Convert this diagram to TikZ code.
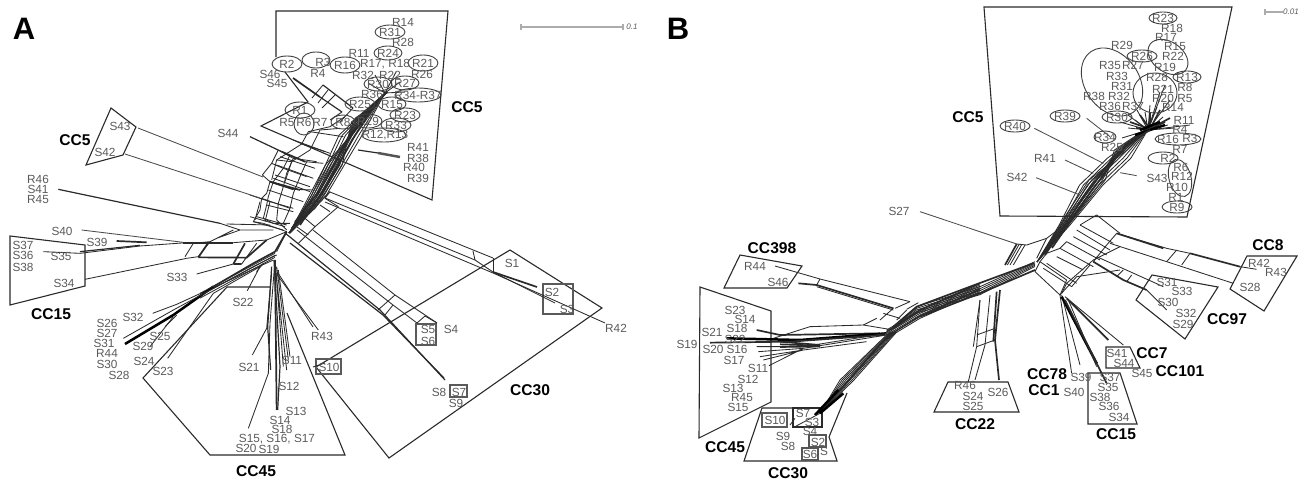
\documentclass[tikz,border=0pt]{standalone}
\usepackage{fontspec}
\setmainfont{Liberation Sans}
\definecolor{ink}{HTML}{2A2A2A}
\definecolor{lab}{HTML}{5A5A5A}
\tikzset{
 txt/.style={text=lab,font=\fontsize{5.9}{6}\selectfont,inner sep=0pt},
 cc/.style={text=black,font=\fontsize{7.8}{8}\selectfont\bfseries,inner sep=0pt},
 big/.style={text=black,font=\fontsize{15.5}{16}\selectfont\bfseries,inner sep=0pt},
 poly/.style={draw=ink,line width=.55pt,line join=miter},
 net/.style={draw=ink,line width=.42pt,line join=round},
 mid/.style={draw=ink,line width=.6pt,line join=round},
 thk/.style={draw=ink,line width=.85pt,line join=round},
 hvy/.style={draw=black,line width=1.25pt,line join=round},
 leaf/.style={draw=ink!85,line width=.42pt},
 ell/.style={draw=ink!90,line width=.45pt},
 bx/.style={draw=lab,line width=.6pt},
 bar/.style={draw=gray!65,line width=.6pt},
 z1/.style={shift={(230,0)},scale=1/3},
 z2/.style={shift={(0,160)},scale=1/3},
 z3/.style={shift={(280,230)},scale=1/3},
 z4/.style={shift={(980,0)},scale=1/3},
 z5/.style={shift={(680,230)},scale=1/3},
 z6/.style={shift={(950,220)},scale=1/3},
 z7/.style={shift={(60,90)},scale=1/3},
 z8/.style={shift={(250,130)},scale=1/3},
 z9/.style={shift={(880,170)},scale=1/3},
}
\begin{document}
\begin{tikzpicture}[x=.5pt,y=-.5pt]
\useasboundingbox (0,0) rectangle (1303,482);
% ---------- panel letters and scale bars
\node[big] (pa) at (24,29) {A};
\node[big] (pb) at (678,29) {B};
\coordinate (sa1) at (521,27); \coordinate (sa2) at (623,27);
\draw[bar] (sa1)--(sa2);
\draw[bar] (521,24)--(521,30) (623,24)--(623,30);
\node[txt,font=\fontsize{4}{4}\selectfont\itshape] (sa) at (632,27) {0.1};
\coordinate (sb1) at (1265,12); \coordinate (sb2) at (1283,12);
\draw[bar] (sb1)--(sb2);
\draw[bar] (1265,9)--(1265,15);
\node[txt,font=\fontsize{4}{4}\selectfont\itshape] (sb) at (1291,12) {0.01};
% ---------- panel A: cluster outlines
\draw[poly] (276,57)--(276,11)--(448,11)--(432,200)--(261,126)--(308,102)--(285,72);
\draw[poly] (111,108)--(136,127)--(123,155)--(86,165)--cycle;
\draw[poly] (10,236)--(85,245)--(85,286)--(10,305)--cycle;
\draw[poly] (270,287)--(227,287)--(143,378)--(210,455)--(345,455)--(287,313);
\draw[poly] (316,367)--(510,250)--(602,308)--(389,458)--cycle;
% boxes
\draw[bx] (316,359) rectangle (341,374);
\draw[bx] (416,324) rectangle (436,345);
\draw[bx] (450,385) rectangle (467,397);
\draw[bx] (543,284) rectangle (573,314);
% ---------- panel A: network, stem
\foreach \d in {-9,-6,-3,0,3,6,9,12}{
 \draw[net] (289,233)--(318+.7*\d,195)--(349+1.1*\d,135)--(385,93);
 \draw[net] (292,228)--(310-.6*\d,208)--(335-.8*\d,165)--(356+.5*\d,122)--(387,92);
}
\draw[thk] (295,222)--(320,190)--(345,145)--(370,108)--(387,92);
\draw[thk] (300,225)--(327,185)--(352,140)--(376,103);
\draw[thk] (293,78)--(320,97);
\draw[mid] (320,97)--(342,112);
\draw[mid] (323,85)--(340,98)--(353,108);
\draw[mid] (358,150)--(378,153);
\draw[hvy,draw=ink!80] (378,153)--(400,157);
\draw[net] (323,85)--(312,98) (328,90)--(318,103) (335,95)--(322,108) (342,112)--(330,120) (353,108)--(340,122);
\draw[net] (368,83)--(385,93)--(372,105) (375,75)--(385,93)--(396,72) (385,93)--(400,82) (385,93)--(405,92);
\begin{scope}[z1]
 \draw[net] (125,540)--(140,480)--(215,432)--(235,395)--(300,380)--(345,350);
 \draw[net] (165,545)--(185,485)--(240,450)--(270,390)--(330,385);
 \draw[net] (140,480)--(185,485) (215,432)--(285,455) (240,395)--(340,410);
 \draw[net] (190,420)--(300,460) (150,470)--(255,505) (135,525)--(240,560);
\end{scope}
\begin{scope}[z7]
 \draw[net] (655,180)--(635,220)--(607,255)--(630,275)--(620,310)--(605,325)--(600,360)--(580,395)--(610,400);
 \draw[net] (690,195)--(670,235)--(640,275)--(625,320)--(620,345)--(610,385)--(640,400);
 \draw[net] (700,205)--(680,250)--(670,290)--(655,340)--(650,390)--(680,420);
 \draw[net] (740,215)--(720,260)--(700,310)--(690,355)--(670,400);
 \draw[net] (655,180)--(700,205)--(770,215);
 \draw[net] (635,220)--(670,235)--(740,260);
 \draw[thk] (630,275)--(720,300);
 \draw[net] (650,225)--(760,265) (640,265)--(750,305) (625,300)--(730,335);
 \draw[net] (605,325)--(690,355) (620,345)--(700,365) (580,395)--(670,420) (590,380)--(680,405);
 \draw[net] (610,400)--(680,425) (640,400)--(690,400);
\end{scope}
\begin{scope}[z8]
 \draw[mid] (0,20)--(95,65);
 \draw[thk] (95,65)--(165,95);
 \draw[net] (165,95)--(220,100);
 \draw[thk] (60,155)--(130,178);
 \draw[net] (130,178)--(190,180) (0,195)--(60,215)--(130,235) (0,260)--(105,290) (30,215)--(15,270) (60,215)--(45,275);
 \draw[net] (120,310)--(165,265)--(240,185);
 \draw[net] (145,340)--(195,290)--(265,230);
 \draw[net] (225,205)--(265,230) (240,185)--(225,205) (165,265)--(195,290) (140,290)--(175,315);
 \draw[net] (210,225)--(240,245);
\end{scope}
% branch to CC30
\draw[net] (330,192)--(493,258);
\draw[net] (473,251)--(475,260);
\draw[net] (325,198)--(475,260)--(493,272)--(555,303);
\draw[net] (325,202)--(493,273)--(605,323);
\draw[net] (493,258)--(493,272);
\draw[thk] (493,272)--(537,287);
\draw[net] (313,230)--(395,295)--(437,323);
\draw[net] (297,230)--(393,305)--(417,323);
\draw[net] (437,323)--(425,316)--(417,323);
\draw[mid] (285,233)--(380,310)--(445,380);
\draw[mid] (290,243)--(383,315)--(444,378);
\draw[net] (395,295)--(378,310);
\draw[net] (393,305)--(385,315);
% left web
\begin{scope}[z2]
 \draw[mid] (175,88)--(660,190);
 \draw[net] (660,190)--(720,210)--(820,210) (700,210)--(630,245) (720,210)--(650,235) (680,192)--(810,195);
 \draw[leaf] (245,210)--(550,247);
 \draw[thk] (350,243)--(440,247);
 \draw[thk] (550,248)--(700,248);
 \draw[net] (700,248)--(800,240)--(860,215);
 \draw[net] (130,275)--(240,280)--(420,258)--(560,248);
 \draw[mid] (240,275)--(420,256);
 \draw[net] (255,358)--(560,295);
 \draw[thk] (595,292)--(740,293);
 \draw[net] (560,295)--(595,290)--(630,245)--(580,250)--(555,290);
 \draw[thk] (595,292)--(625,248);
 \draw[net] (590,342)--(700,312);
 \draw[thk] (700,312)--(735,250) (725,312)--(700,312);
 \draw[net] (725,312)--(770,250);
 \draw[thk] (800,240)--(740,293);
 \draw[net] (458,460)--(530,433)--(820,300);
 \draw[hvy] (375,552)--(520,465)--(640,380);
 \draw[thk] (640,380)--(760,310)--(825,275)--(860,215);
 \draw[net] (370,535)--(520,450)--(760,320)--(830,285);
 \draw[net] (495,500)--(530,465);
 \draw[net] (503,595)--(640,400)--(780,320);
 \draw[net] (450,560)--(520,470);
 \draw[net] (742,392)--(780,320)--(770,335)--(790,310);
 \foreach \d in {0,6,12}{\draw[net] (600,400+\d*1.2)--(825,280+\d);}
 % fan below the hub
 \draw[thk] (825,300)--(830,750);
 \draw[net] (825,300)--(810,490)--(805,640)--(745,805);
 \draw[mid] (815,320)--(803,500)--(812,630);
 \draw[net] (757,585)--(800,505)--(815,340);
 \draw[net] (825,300)--(850,620) (825,310)--(860,630) (830,320)--(865,600) (835,330)--(870,590);
 \draw[mid] (822,300)--(840,620)--(833,750);
 \draw[net] (828,340)--(955,510);
 \draw[net] (810,400)--(803,490);
 \draw[net] (860,215)--(830,275);
\end{scope}
\draw[net] (278,273)--(313,327);
\draw[net] (313,367)--(325,363);
% ---------- leaders from leaves A
\draw[leaf] (138,128)--(263,177);
\draw[leaf] (125,154)--(260,198);
% ---------- panel A: ellipses
\foreach \x/\y/\rx/\ry in {390/32/15/7,388/53/14/7,287/64/15/8,316/60/14/8,345/65/15/8,423/63/15/8,378/84/14/7,405/83/14/7,418/95/23/7,360/104/15/7,392/104/14/7,300/110/15/8,304/124/10/11,405/115/15/7,343/122/12/7,368/121/14/7,396/125/15/7,384/135/22/7}
 \draw[ell] (\x,\y) ellipse [x radius=\rx,y radius=\ry];
% ---------- panel A: labels
\foreach \x/\y/\t [count=\i] in {403/22/R14,390/32/R31,403/42/R28,359/53/R11,388/53/R24,287/64/R2,323/62/R3,345/65/R16,385/64/{R17, R18},423/63/R21,422/74/R26,270/74/S46,318/73/R4,277/83/S45,363/75/R32,390/75/R22,378/84/R30,405/83/R27,418/95/R34-R37,372/94/R36,360/104/R25,392/104/R15,300/110/R1,405/115/R23,287/122/R5,304/122/R6,320/122/R7,343/122/R8,368/121/R29,396/125/R33,385/135/{R12,R13},418/147/R41,418/158/R38,414/167/R40,418/178/R39,38/179/R46,38/189/S41,38/199/R45,62/231/S40,97/242/S39,23/245/S37,23/255/S36,61/256/S35,23/267/S38,64/283/S34,177/277/S33,243/302/S22,133/317/S32,107/323/S26,107/333/S27,104/343/S31,160/336/S25,143/346/S29,107/353/R44,144/361/S24,107/364/S30,163/371/S23,119/375/S28,249/367/S21,292/360/S11,289/386/S12,296/411/S13,280/420/S14,282/429/S18,277/439/{S15, S16, S17},246/448/S20,269/449/S19,322/336/R43,512/263/S1,552/292/S2,567/309/S3,616/328/R42,451/329/S4,428/329/S5,428/341/S6,329/367/S10,439/392/S8,459/392/S7,456/403/S9,120/126/S43,105/152/S42,228/133/S44}
 \node[txt] (al\i) at (\x,\y) {\t};
\node[cc] (c1) at (467,107) {CC5};
\node[cc] (c2) at (75,140) {CC5};
\node[cc] (c3) at (51,314) {CC15};
\node[cc] (c4) at (256,471) {CC45};
\node[cc] (c5) at (530,390) {CC30};
% ---------- panel B: cluster outlines
\draw[poly] (1000,216)--(984,7)--(1232,7)--(1187,217)--cycle;
\draw[poly] (740,255)--(802,266)--(787,288)--(724,288)--cycle;
\draw[poly] (700,287)--(771,311)--(771,402)--(699,438)--cycle;
\draw[poly] (820,408)--(762,408)--(744,461)--(837,461)--(829,437)--(847,393);
\draw[poly] (948,382)--(1008,382)--(1019,412)--(934,412)--cycle;
\draw[poly] (1088,373)--(1120,373)--(1137,424)--(1088,424)--cycle;
\draw[poly] (1106,368)--(1106,347)--(1130,347)--(1140,368)--cycle;
\draw[poly] (1152,275)--(1218,287)--(1185,339)--(1136,300)--cycle;
\draw[poly] (1247,256)--(1297,256)--(1264,311)--(1230,289)--cycle;
\draw[bx] (762,413) rectangle (787,427);
\draw[poly] (793,408) rectangle (822,427);
\draw[poly,draw=ink!80] (809,435) rectangle (826,447);
\draw[poly,draw=ink!80] (802,448) rectangle (818,460);
% ---------- panel B: stem
\foreach \d in {-8,-5,-2,1,4,7,10}{
 \draw[net] (1037,262)--(1064+.6*\d,225)--(1090+1.3*\d,185)--(1118+1.3*\d,158)--(1149,128);
 \draw[net] (1040,258)--(1072-.6*\d,215)--(1098-.9*\d,180)--(1120+.7*\d,150)--(1152,125);
}
\draw[thk] (1045,255)--(1085,195)--(1115,155)--(1150,127);
\draw[thk] (1052,248)--(1090,193)--(1122,150);
\foreach \a/\b in {1137/110,1145/112,1163/117,1157/107,1170/100,1150/105,1128/115,1120/122,1168/125,1175/128,1135/120,1128/128,1165/85,1160/92,1122/138,1190/125}
 \draw[net] (1148,130)--(\a,\b);
\foreach \a/\b in {1140/115,1150/112,1160/110,1130/122,1165/122,1170/118,1136/128}
 \draw[thk] (1150,129)--(\a,\b);
\draw[hvy] (1135,135)--(1165,125) (1140,130)--(1160,122);
\draw[thk] (1125,145)--(1150,130);
\begin{scope}[z4]
 \draw[leaf] (163,385)--(370,490);
 \draw[leaf] (255,480)--(340,520);
 \draw[leaf] (168,533)--(300,585);
 \draw[leaf] (470,527)--(420,518);
 \draw[leaf] (320,355)--(390,410);
\end{scope}
\begin{scope}[z9]
 \draw[leaf] (120,125)--(410,222);
 \draw[net] (410,222)--(440,225)--(500,205)--(540,175)--(560,150);
 \draw[thk] (410,222)--(375,285);
 \draw[net] (418,222)--(382,285) (425,224)--(390,285) (435,225)--(400,285);
 \draw[net] (500,205)--(470,265);
 \foreach \d in {0,6,12,18,24}{
  \draw[net] (465,275+\d*.6)--(300,350+\d)--(110,410+\d*.8)--(40,470+\d*.3);
 }
 \draw[thk] (460,280)--(270,350)--(110,410)--(40,470);
 \draw[thk] (465,300)--(300,370)--(120,440);
 \draw[net] (500,250)--(480,275)--(465,305)--(540,375)--(590,320)--(720,300);
 \draw[net] (480,275)--(560,330)--(540,375);
 \draw[net] (540,235)--(640,290) (560,215)--(660,270) (590,180)--(690,240) (600,165)--(700,220) (580,200)--(680,255);
 \draw[net] (500,280)--(590,340) (490,295)--(575,350) (530,260)--(610,300) (560,215)--(540,235)--(500,250);
 \draw[net] (650,135)--(720,190) (600,165)--(650,135) (640,270)--(720,230);
 \draw[net] (640,270)--(560,340)--(545,370) (630,285)--(575,350);
\end{scope}
% ---------- panel B: to CC22
\begin{scope}[z6]
 \draw[net] (90,240)--(80,380)--(55,485);
 \draw[net] (120,225)--(105,375)--(75,480);
 \draw[thk] (150,210)--(135,360)--(147,480);
 \draw[thk] (140,215)--(130,365);
 \draw[net] (80,345)--(135,325) (80,380)--(135,360) (90,240)--(70,380);
 % to CC8
 \draw[net] (500,40)--(650,85)--(720,100);
 \draw[thk] (500,40)--(640,85) (720,100)--(870,140);
 \draw[net] (480,70)--(650,125)--(850,190);
 \draw[net] (650,125)--(680,90) (695,135)--(720,100);
 \draw[net] (870,140)--(920,148);
 \draw[net] (500,40)--(470,75)--(430,125);
 % to CC97
 \draw[thk] (430,125)--(520,180)--(590,210);
 \draw[net] (590,210)--(650,270) (440,110)--(640,200);
 \draw[net] (500,170)--(520,150) (530,185)--(545,165);
 % fan to CC15 etc
 \draw[net] (330,225)--(365,460) (335,225)--(390,435);
 \draw[hvy] (335,230)--(440,430);
 \draw[thk] (345,240)--(470,490);
 \draw[thk] (350,235)--(475,360);
 \draw[net] (345,230)--(520,375);
 \draw[net] (355,240)--(440,440);
\end{scope}
% ---------- panel B: left
\begin{scope}[z5]
 \draw[net] (285,108)--(420,147)--(690,215);
 \draw[thk] (355,160)--(410,165)--(640,235);
 \draw[net] (410,170)--(640,240);
 \draw[net] (420,147)--(410,165) (690,215)--(645,235) (715,218)--(680,238) (640,235)--(600,270) (590,265)--(550,285) (610,250)--(660,265);
 \draw[net] (550,285)--(640,300) (680,240)--(650,270);
 % joining band
 \foreach \d in {0,5,10,15,20,25}{\draw[net] (620,300+\d)--(720,240+\d)--(900,165+\d*.8);}
 \draw[thk] (620,305)--(720,240)--(900,160);
 \draw[mid] (620,320)--(720,258)--(900,178);
 % cluster to the left
 \draw[thk] (230,300)--(300,315)--(600,310);
 \draw[hvy] (140,325)--(360,330)--(620,310);
 \draw[thk] (90,338)--(330,335)--(610,315);
 \draw[net] (230,350)--(370,350)--(620,310) (235,365)--(370,355)--(620,315) (240,380)--(370,360)--(560,335) (250,390)--(370,360) (267,407)--(370,355);
 \foreach \d in {0,4,8}{\draw[thk] (300,335+\d*2)--(420,345+\d*.5);}
 \draw[net] (280,325)--(390,290)--(550,285);
 % band to CC30
 \foreach \d in {-20,-14,-8,-2,4,10,16,22}{
  \draw[net] (640+.5*\d,305)--(500+\d,450)--(420,550);
 }
 \draw[thk] (630,310)--(480,480)--(415,550);
 \draw[hvy] (490,490)--(420,550) (475,480)--(405,555);
 \draw[net] (330,585)--(345,565) (345,590)--(420,550);
\end{scope}
% ---------- panel B: ellipses
\foreach \x/\y/\rx/\ry/\r in {1163/18/14/6/0,1142/56/15/6/0,1187/77/14/6/0,1065/116/15/6/0,1117/117/15/6/0,1015/126/15/6/0,1105/137/11/6/0,1178/139/23/6/0,1163/158/15/6/0,1177/207/15/6/0}
 \draw[ell] (\x,\y) ellipse [x radius=\rx,y radius=\ry];
\draw[ell,rotate around={35:(1112,82)}] (1112,82) ellipse [x radius=27,y radius=37];
\draw[ell,rotate around={-35:(1168,57)}] (1168,57) ellipse [x radius=22,y radius=15];
\draw[ell] (1155,93) ellipse [x radius=22,y radius=20];
\draw[ell,rotate around={15:(1180,178)}] (1180,178) ellipse [x radius=11,y radius=19];
% ---------- panel B: labels
\foreach \x/\y/\t [count=\i] in {1163/18/R23,1172/28/R18,1166/37/R17,1175/46/R15,1122/45/R29,1142/56/R26,1173/56/R22,1110/65/R35,1133/65/R27,1165/67/R19,1117/76/R33,1157/77/R28,1187/77/R13,1185/87/R8,1122/86/R31,1163/89/R21,1094/96/R38,1119/96/R32,1163/98/R20,1185/98/R5,1110/106/R36,1133/106/R37,1173/107/R14,1065/116/R39,1117/117/R30,1184/120/R11,1015/126/R40,1180/129/R4,1105/137/R34,1168/139/R16,1190/138/R3,1180/149/R7,1112/147/R25,1168/158/R2,1045/158/R41,1181/167/R6,1157/178/S43,1182/176/R12,1017/177/S42,1177/187/R10,1176/197/R1,1177/207/R9,899/211/S27,965/385/R46,973/396/S24,998/392/S26,973/406/S25,1110/377/S37,1108/387/S35,1100/397/S38,1109/406/S36,1119/417/S34,1081/377/S39,1074/392/S40,1117/353/S41,1124/363/S44,1142/373/S45,1167/282/S31,1182/291/S33,1168/302/S30,1186/313/S32,1183/324/S29,1259/263/R42,1276/272/R43,1250/287/S28,755/266/R44,778/282/S46,735/310/S23,745/319/S14,737/328/S18,712/332/S21,735/339/S22,687/344/S19,713/349/S20,737/349/S16,734/360/S17,758/368/S11,748/379/S12,733/388/S13,742/397/R45,738/407/S15,775/420/S10,803/413/S7,812/422/S3,810/431/S4,818/442/S2,783/436/S9,788/446/S8,810/454/S6,824/451/S}
 \node[txt] (bl\i) at (\x,\y) {\t};
\node[cc] (d1) at (968,117) {CC5};
\node[cc] (d2) at (772,248) {CC398};
\node[cc] (d3) at (725,447) {CC45};
\node[cc] (d4) at (788,473) {CC30};
\node[cc] (d5) at (975,424) {CC22};
\node[cc] (d6) at (1116,434) {CC15};
\node[cc] (d7) at (1047,374) {CC78};
\node[cc] (d8) at (1044,390) {CC1};
\node[cc] (d9) at (1152,353) {CC7};
\node[cc] (d10) at (1180,371) {CC101};
\node[cc] (d11) at (1227,319) {CC97};
\node[cc] (d12) at (1268,245) {CC8};
\end{tikzpicture}
\end{document}
